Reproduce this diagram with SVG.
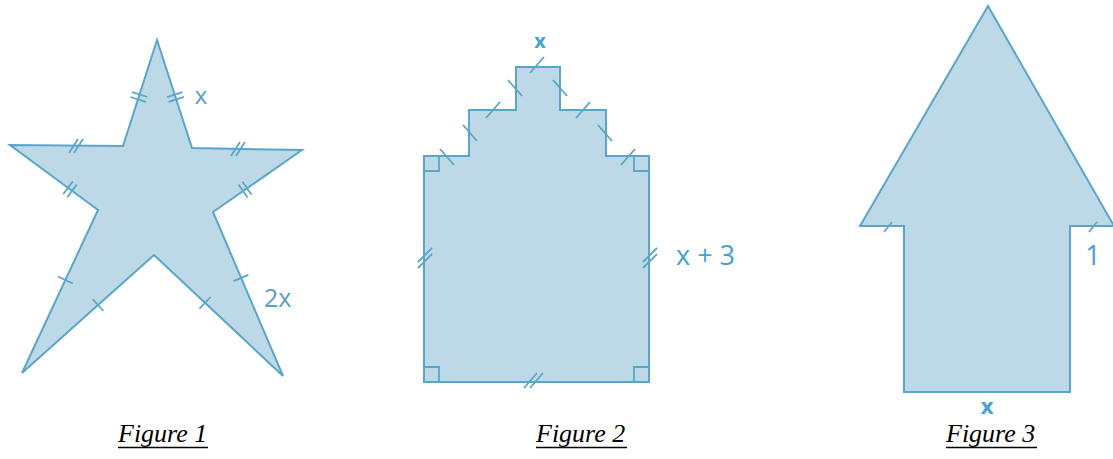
<svg xmlns="http://www.w3.org/2000/svg" width="1113" height="459" viewBox="0 0 1113 459">
<style>
.shape{fill:#bdd9e7;stroke:#5aa6c8;stroke-width:2;stroke-linejoin:miter}
.tk{stroke:#5aa6c8;stroke-width:1.8;fill:none;stroke-linecap:butt}
.ra{fill:none;stroke:#5aa6c8;stroke-width:1.8}
.lbl{font-family:"Open Sans","Liberation Sans",sans-serif;fill:#45a3cf}
.cap{font-family:"Liberation Serif",serif;font-style:italic;font-size:26px;fill:#000}
.ul{stroke:#000;stroke-width:1.6}
</style>
<rect width="1113" height="459" fill="#fff"/>

<g id="figure1">
<polygon class="shape" points="157,40 123,146 10,145 98,210 22,373 154,255 283,376 213,212 302,150 192,148"/>
<g class="tk">
<line x1="132.1" y1="92.2" x2="147.5" y2="97"/>
<line x1="130.5" y1="97" x2="145.9" y2="101.8"/>
<line x1="168.6" y1="101.9" x2="184" y2="96.9"/>
<line x1="167" y1="97.1" x2="182.4" y2="92.1"/>
<line x1="69" y1="153" x2="78" y2="139"/>
<line x1="74" y1="153" x2="83" y2="139"/>
<line x1="231" y1="156" x2="240" y2="142"/>
<line x1="236" y1="156" x2="245" y2="142"/>
<line x1="67.2" y1="197.2" x2="76.8" y2="184.4"/>
<line x1="63.2" y1="194.2" x2="72.8" y2="181.4"/>
<line x1="238.5" y1="184.6" x2="247.5" y2="197.6"/>
<line x1="242.5" y1="181.8" x2="251.5" y2="194.8"/>
<line x1="58" y1="276.5" x2="72.7" y2="283.5"/>
<line x1="92.6" y1="299" x2="103.4" y2="311"/>
<line x1="199.5" y1="308.6" x2="210.5" y2="297"/>
<line x1="233.6" y1="281.2" x2="248.4" y2="274.8"/>
</g>
<text class="lbl" x="201" y="104" font-size="24" text-anchor="middle" style="fill:#5aa0c0">x</text>
<text class="lbl" x="264" y="307" font-size="25" style="fill:#5aa0c0">2x</text>
<text class="cap" x="118" y="442">Figure 1</text>
<line class="ul" x1="118" y1="447.5" x2="208" y2="447.5"/>
</g>

<g id="figure2">
<path class="shape" d="M424,382 L424,156 L469,156 L469,110 L516,110 L516,67 L560,67 L560,110 L606,110 L606,156 L649,156 L649,382 Z"/>
<g class="ra">
<path d="M424,171 L439,171 L439,156"/>
<path d="M649,171 L634,171 L634,156"/>
<path d="M424,367 L439,367 L439,382"/>
<path d="M649,367 L634,367 L634,382"/>
</g>
<g class="tk">
<line x1="440" y1="149" x2="454" y2="165"/>
<line x1="463" y1="125" x2="477" y2="141"/>
<line x1="486" y1="118" x2="500" y2="102"/>
<line x1="508" y1="80" x2="522" y2="96"/>
<line x1="530" y1="73" x2="544" y2="57"/>
<line x1="553" y1="80" x2="567" y2="96"/>
<line x1="576" y1="118" x2="590" y2="102"/>
<line x1="598" y1="125" x2="612" y2="141"/>
<line x1="621" y1="165" x2="635" y2="149"/>
<line x1="418" y1="262" x2="432" y2="248"/>
<line x1="418" y1="268" x2="432" y2="254"/>
<line x1="643" y1="262" x2="657" y2="248"/>
<line x1="643" y1="268" x2="657" y2="254"/>
<line x1="524" y1="388" x2="537" y2="373"/>
<line x1="530" y1="388" x2="543" y2="373"/>
</g>
<text class="lbl" x="540" y="48" font-size="20" font-weight="bold" text-anchor="middle">x</text>
<text class="lbl" x="676" y="265" font-size="27">x + 3</text>
<text class="cap" x="536" y="442">Figure 2</text>
<line class="ul" x1="536" y1="447.5" x2="627" y2="447.5"/>
</g>

<g id="figure3">
<path class="shape" d="M988,6 L860,226 L904,226 L904,392 L1070,392 L1070,226 L1114,226 Z"/>
<g class="tk">
<line x1="884" y1="232" x2="892" y2="222"/>
<line x1="1089" y1="232" x2="1097" y2="222"/>
</g>
<text class="lbl" x="1093" y="265" font-size="27" text-anchor="middle">1</text>
<text class="lbl" x="987" y="414" font-size="22" font-weight="bold" text-anchor="middle">x</text>
<text class="cap" x="946" y="442">Figure 3</text>
<line class="ul" x1="946" y1="447.5" x2="1037" y2="447.5"/>
</g>
</svg>
